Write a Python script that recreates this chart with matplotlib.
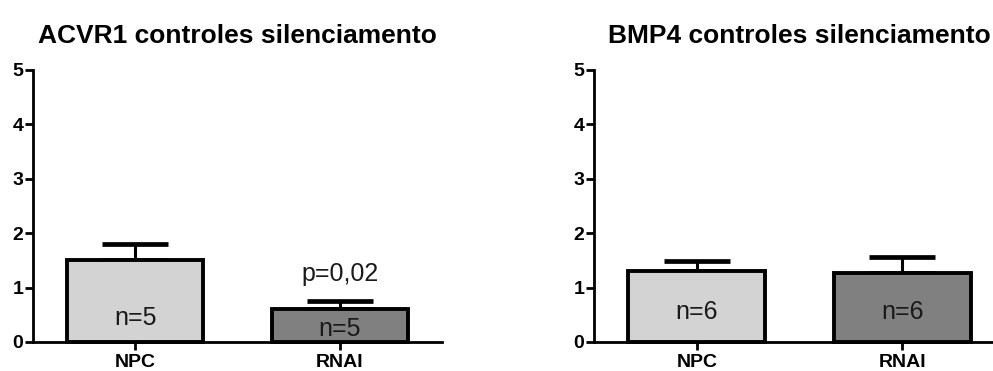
import matplotlib
matplotlib.use("Agg")
import matplotlib.pyplot as plt

plt.rcParams['font.family'] = ['Liberation Sans', 'DejaVu Sans']

groups = ["NPC", "RNAI"]
colors = ["#d3d3d3", "#808080"]

acvr1_mean = [1.51, 0.60]
acvr1_err = [0.29, 0.15]
acvr1_n = ["n=5", "n=5"]
acvr1_n_y = [0.44, 0.24]

bmp4_mean = [1.31, 1.27]
bmp4_err = [0.18, 0.30]
bmp4_n = ["n=6", "n=6"]
bmp4_n_y = [0.55, 0.55]

fig = plt.figure(figsize=(9.93, 3.71), dpi=100)
ax1 = fig.add_axes([33/993, 29/371, 409/993, 272/371])
ax2 = fig.add_axes([594/993, 29/371, 411/993, 272/371])


def draw(ax, means, errs, labels, label_y, title):
    x = range(len(groups))
    ax.bar(x, means, width=0.667, color=colors, edgecolor="black",
           linewidth=2.8, clip_on=False, zorder=3)
    ax.errorbar(x, means, yerr=[[0]*len(errs), errs], fmt="none",
                ecolor="black", elinewidth=2.2, capsize=24, capthick=3.4,
                zorder=2, clip_on=False)
    for xi, t, ty in zip(x, labels, label_y):
        ax.text(xi, ty, t, ha="center", va="center", fontsize=18, color="#1a1a1a", zorder=4)
    ax.set_xlim(-0.5, 1.5)
    ax.set_ylim(0, 5)
    ax.set_xticks(list(x))
    ax.set_xticklabels(groups, fontweight="bold", fontsize=14)
    ax.set_yticks([0, 1, 2, 3, 4, 5])
    ax.set_yticklabels(["0", "1", "2", "3", "4", "5"], fontweight="bold", fontsize=14)
    ax.spines["top"].set_visible(False)
    ax.spines["right"].set_visible(False)
    ax.spines["left"].set_linewidth(2.0)
    ax.spines["bottom"].set_linewidth(2.0)
    ax.tick_params(axis="y", direction="out", length=5.5, width=2.0, pad=1.5)
    ax.tick_params(axis="x", direction="out", length=5.5, width=2.0, pad=3)
    # title baseline about 43 px below the top of the figure
    ax.text(0.5, (342 - 43) / 272, title, transform=ax.transAxes,
            ha="center", va="baseline", fontsize=19, fontweight="bold")


draw(ax1, acvr1_mean, acvr1_err, acvr1_n, acvr1_n_y, "ACVR1 controles silenciamento")
draw(ax2, bmp4_mean, bmp4_err, bmp4_n, bmp4_n_y, "BMP4 controles silenciamento")
ax1.text(1, 1.25, "p=0,02", ha="center", va="center", fontsize=18, color="#1a1a1a")

fig.savefig("out.png", dpi=100)
